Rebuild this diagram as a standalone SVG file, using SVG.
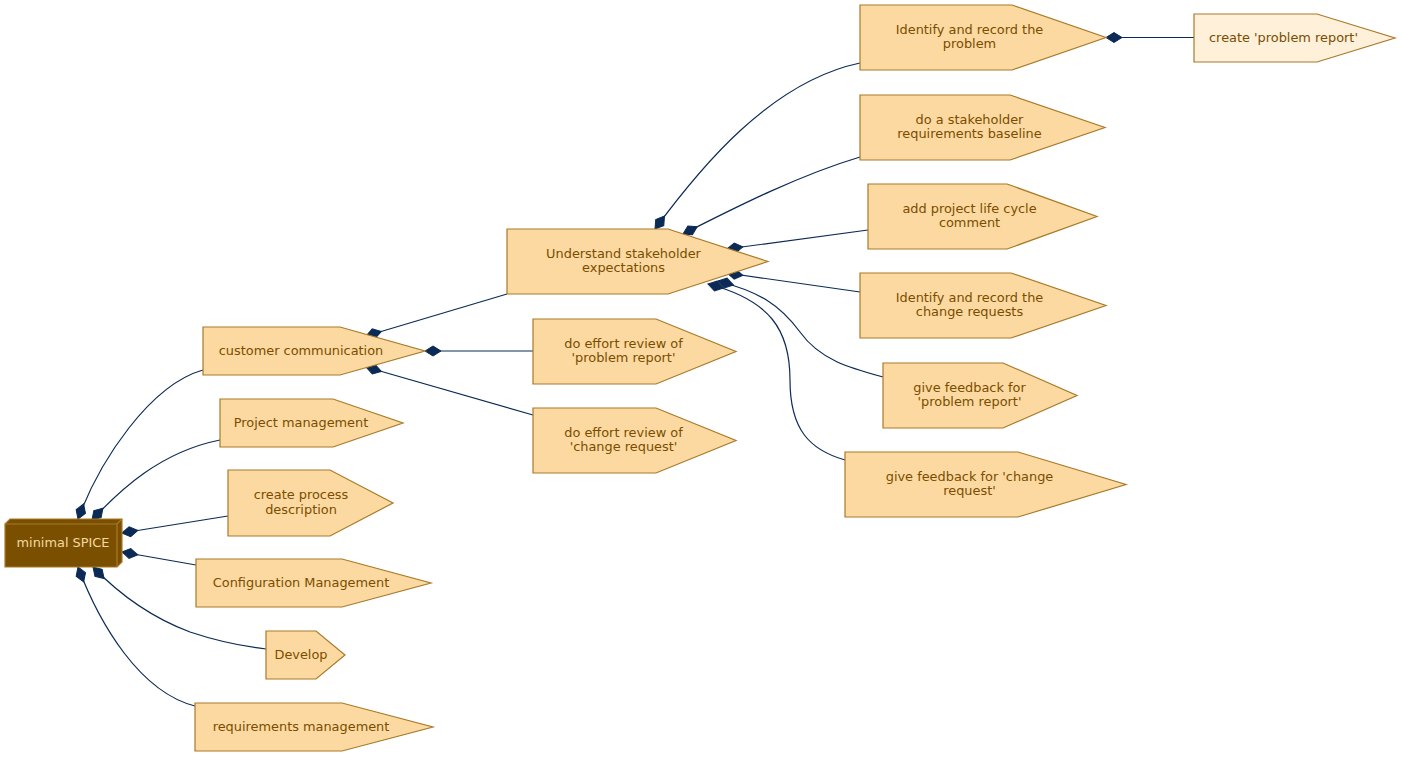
<svg xmlns="http://www.w3.org/2000/svg" width="1401" height="757" viewBox="0 0 1401 757">
<defs>
<marker id="dia" markerUnits="userSpaceOnUse" markerWidth="20" markerHeight="12" viewBox="0 -6 20 12" refX="0" refY="0" orient="auto" overflow="visible">
<polygon points="0,0 8,-5 16,0 8,5" fill="#0b2a55" stroke="#0b2a55" stroke-width="1"/>
</marker>
<style>
.n{fill:#fcd9a0;stroke:#a87a2a;stroke-width:1.2}
.l{fill:#fff0d9;stroke:#a87a2a;stroke-width:1.2}
.t{font-family:"DejaVu Sans",sans-serif;font-size:12.9px;fill:#7a4d00;text-anchor:middle}
.e{fill:none;stroke:#0b2a55;stroke-width:1.2;marker-start:url(#dia)}
</style>
</defs>
<rect width="1401" height="757" fill="#ffffff"/>
<g id="edges">
<path class="e" d="M78,519 C100,460 150,385 203,370"/>
<path class="e" d="M92,520 C120,490 160,452 220,440"/>
<path class="e" d="M122,533 L228,516"/>
<path class="e" d="M122,552 L196,565"/>
<path class="e" d="M93,567 C120,595 150,617 190,632 C220,642 240,646 266,649"/>
<path class="e" d="M78,567 C100,625 140,692 195,706"/>
<path class="e" d="M366,336 L507,294"/>
<path class="e" d="M425,351 L533,351"/>
<path class="e" d="M366,367 L533,415"/>
<path class="e" d="M655,229 C700,168 770,82 860,63"/>
<path class="e" d="M683,234 C740,205 800,175 860,157"/>
<path class="e" d="M727,249 L868,230"/>
<path class="e" d="M727,273 L860,292"/>
<path class="e" d="M718,281 C760,292 780,305 800,332 C820,360 850,368 883,377"/>
<path class="e" d="M708,284 C770,300 790,330 790,380 C790,430 810,450 845,460"/>
<path class="e" d="M1106,37.5 L1194,37.5"/>
</g>
<g id="minimal_spice">
<polygon points="5,524 10,519 122,519 122,562 117,567 5,567" fill="#7a4f00" stroke="#a87a2a" stroke-width="1.2"/>
<polyline points="5,524 117,524 122,519" fill="none" stroke="#a87a2a" stroke-width="1.2"/>
<line x1="117" y1="524" x2="117" y2="567" stroke="#a87a2a" stroke-width="1.2"/>
<text x="63" y="546.5" class="t" style="fill:#f4d9a0">minimal SPICE</text>
</g>
<g id="customer_communication">
<polygon class="n" points="203,327 340,327 425,351 340,375 203,375"/>
<text x="301" y="354.5" class="t">customer communication</text>
</g>
<g id="project_management">
<polygon class="n" points="220,399 333,399 403,423 333,447 220,447"/>
<text x="301" y="426.5" class="t">Project management</text>
</g>
<g id="create_process_description">
<polygon class="n" points="228,470 330,470 393,503 330,536 228,536"/>
<text x="301" y="499.2" class="t">create process</text>
<text x="301" y="513.8" class="t">description</text>
</g>
<g id="configuration_management">
<polygon class="n" points="196,559 342,559 431,583 342,607 196,607"/>
<text x="301" y="586.5" class="t">Configuration Management</text>
</g>
<g id="develop">
<polygon class="n" points="266,631 316,631 345,655 316,679 266,679"/>
<text x="301" y="658.5" class="t">Develop</text>
</g>
<g id="requirements_management">
<polygon class="n" points="195,703 342,703 433,727 342,751 195,751"/>
<text x="301" y="730.5" class="t">requirements management</text>
</g>
<g id="understand_stakeholder_expectations">
<polygon class="n" points="507,229 668,229 768,261.5 668,294 507,294"/>
<text x="623.5" y="257.7" class="t">Understand stakeholder</text>
<text x="623.5" y="272.3" class="t">expectations</text>
</g>
<g id="effort_review_problem">
<polygon class="n" points="533,319 656,319 736,351.5 656,384 533,384"/>
<text x="623.5" y="347.7" class="t">do effort review of</text>
<text x="623.5" y="362.3" class="t">'problem report'</text>
</g>
<g id="effort_review_change">
<polygon class="n" points="533,408 656,408 736,440.5 656,473 533,473"/>
<text x="623.5" y="436.7" class="t">do effort review of</text>
<text x="623.5" y="451.3" class="t">'change request'</text>
</g>
<g id="identify_problem">
<polygon class="n" points="860,5 1012,5 1106,37.5 1012,70 860,70"/>
<text x="969.5" y="33.7" class="t">Identify and record the</text>
<text x="969.5" y="48.3" class="t">problem</text>
</g>
<g id="stakeholder_baseline">
<polygon class="n" points="860,95 1010,95 1105,127.5 1010,160 860,160"/>
<text x="969.5" y="123.7" class="t">do a stakeholder</text>
<text x="969.5" y="138.3" class="t">requirements baseline</text>
</g>
<g id="project_life_cycle">
<polygon class="n" points="868,184 1007,184 1097,216.5 1007,249 868,249"/>
<text x="969.5" y="212.7" class="t">add project life cycle</text>
<text x="969.5" y="227.3" class="t">comment</text>
</g>
<g id="identify_change_requests">
<polygon class="n" points="860,273 1011,273 1106,305.5 1011,338 860,338"/>
<text x="969.5" y="301.7" class="t">Identify and record the</text>
<text x="969.5" y="316.3" class="t">change requests</text>
</g>
<g id="feedback_problem">
<polygon class="n" points="883,363 1003,363 1077,395.5 1003,428 883,428"/>
<text x="969.5" y="391.7" class="t">give feedback for</text>
<text x="969.5" y="406.3" class="t">'problem report'</text>
</g>
<g id="feedback_change">
<polygon class="n" points="845,452 1018,452 1126,484.5 1018,517 845,517"/>
<text x="969.5" y="480.7" class="t">give feedback for 'change</text>
<text x="969.5" y="495.3" class="t">request'</text>
</g>
<g id="create_problem_report">
<polygon class="l" points="1194,14 1317,14 1395,38 1317,62 1194,62"/>
<text x="1283.5" y="41.5" class="t">create 'problem report'</text>
</g>
</svg>
